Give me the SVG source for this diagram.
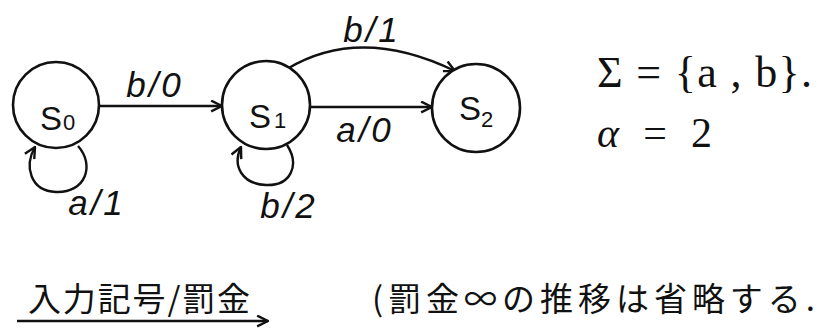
<svg xmlns="http://www.w3.org/2000/svg" width="819" height="328" viewBox="0 0 819 328">
  <style>
    .state { fill: #ffffff; stroke: #111; stroke-width: 2.6; }
    .edge { fill: none; stroke: #111; stroke-width: 2.4; }
    .lbl { font-family: "Liberation Sans", "DejaVu Sans", sans-serif; font-style: italic; fill: #111; font-size: 35px; letter-spacing: 3px; text-anchor: middle; }
    .st { font-family: "Liberation Sans", "DejaVu Sans", sans-serif; fill: #111; font-size: 33px; }
    .sub { font-size: 22px; }
    .math { font-family: "Liberation Serif", "DejaVu Serif", serif; fill: #111; }
    .jp { font-family: "Noto Sans CJK JP", "Noto Sans CJK SC", sans-serif; fill: #111; font-size: 33px; }
  </style>
  <defs>
    <marker id="arr" viewBox="0 0 12 12" refX="11" refY="6" markerWidth="13" markerHeight="13" markerUnits="userSpaceOnUse" orient="auto">
      <path d="M1,1 L11,6 L1,11" fill="none" stroke="#111" stroke-width="2.2"/>
    </marker>
  </defs>

  <g id="connectors">
    <path id="e-s0-s1" class="edge" d="M99,106 L222,106" marker-end="url(#arr)"/>
    <path id="e-s1-s2-a" class="edge" d="M310,107 L432,107" marker-end="url(#arr)"/>
    <path id="e-s1-s2-b" class="edge" d="M287,69 Q360,25 455,71" marker-end="url(#arr)"/>
    <path id="e-s0-s0" class="edge" d="M78,146 C95,165 86,193 56,192 C30,191 24,166 35,147" marker-end="url(#arr)"/>
    <path id="e-s1-s1" class="edge" d="M287,145 C300,165 291,186 266,185 C242,184 232,166 241,147" marker-end="url(#arr)"/>
    <text class="lbl" x="155" y="97">b/0</text>
    <text class="lbl" x="372" y="42">b/1</text>
    <text class="lbl" x="365" y="142">a/0</text>
    <text class="lbl" x="97" y="215">a/1</text>
    <text class="lbl" x="289" y="218">b/2</text>
  </g>

  <g id="S0">
    <circle class="state" cx="56" cy="105" r="43"/>
    <text class="st" x="40" y="130">S<tspan class="sub" dx="1">0</tspan></text>
  </g>
  <g id="S1">
    <circle class="state" cx="266" cy="105" r="44"/>
    <text class="st" x="249" y="128">S<tspan class="sub" dx="3">1</tspan></text>
  </g>
  <g id="S2">
    <circle class="state" cx="476" cy="108" r="44"/>
    <text class="st" x="459" y="120" font-size="29">S<tspan class="sub" dy="7">2</tspan></text>
  </g>

  <g id="definitions">
    <text class="math" x="597" y="87" font-size="44" textLength="215" lengthAdjust="spacing">Σ = {a , b}.</text>
    <text class="math" x="597" y="147" font-size="42" textLength="115" lengthAdjust="spacing"><tspan font-style="italic">α</tspan> = 2</text>
  </g>

  <g id="legend">
    <text class="jp" x="28" y="311" textLength="222" lengthAdjust="spacing">入力記号/罰金</text>
    <path class="edge" d="M17,321 L268,321" marker-end="url(#arr)"/>
  </g>

  <g id="note">
    <text class="jp" x="372" y="311" textLength="443" lengthAdjust="spacing">(罰金∞の推移は省略する.</text>
  </g>
</svg>
